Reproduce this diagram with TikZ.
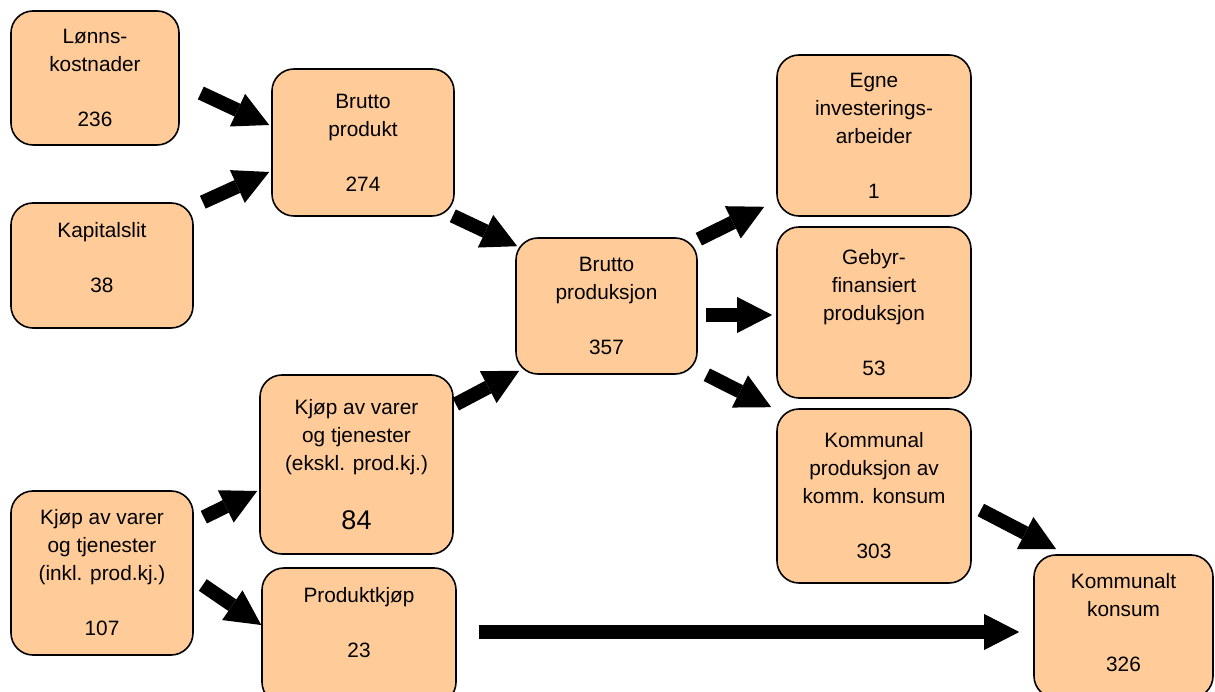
\documentclass[tikz,border=0pt]{standalone}
\usepackage{fontspec}
\setmainfont{Liberation Sans}
\usetikzlibrary{arrows.meta}
\definecolor{peach}{HTML}{FFCC99}

\begin{document}
\begin{tikzpicture}[x=1pt, y=1pt,
    box/.style={draw, line width=1.6pt, fill=peach, rounded corners=22pt, align=center, inner sep=0pt,
                font=\fontsize{20.8}{28}\selectfont},
    flow/.style={line width=\shaft, -{Triangle[length=35pt, width=36pt, line width=0pt]}}]
      \def\shaft{14pt}
      \def\gap{27pt}
      \useasboundingbox (0,0) rectangle (1215,691);

      %boxes
      \node[box, minimum width=168pt, minimum height=134pt, name=lonn    ] at (95    , 613  ) {Lønns-\\kostnader\\[\gap]236};
      \node[box, minimum width=182pt, minimum height=125pt, name=kap     ] at (102   , 425.5) {Kapitalslit\\[\gap]38\\[-11pt]\mbox{}};
      \node[box, minimum width=182pt, minimum height=147pt, name=bprod   ] at (363   , 548.5) {Brutto\\produkt\\[\gap]274};
      \node[box, minimum width=181pt, minimum height=136pt, name=bprodsj ] at (606.5 , 385  ) {Brutto\\produksjon\\[\gap]357};
      \node[box, minimum width=194pt, minimum height=161pt, name=egne    ] at (874   , 555.5) {Egne\\investerings-\\arbeider\\[\gap]1};
      \node[box, minimum width=194pt, minimum height=171pt, name=gebyr   ] at (874   , 378.5) {Gebyr-\\finansiert\\produksjon\\[\gap]53};
      \node[box, minimum width=194pt, minimum height=174pt, name=kprod   ] at (874   , 195  ) {Kommunal\\produksjon av\\komm. konsum\\[\gap]303};
      \node[box, minimum width=179pt, minimum height=143pt, name=kkons   ] at (1123.5, 64.5 ) {Kommunalt\\konsum\\[\gap]326\\[-20pt]\mbox{}};
      \node[box, minimum width=193pt, minimum height=179pt, name=kjopeks ] at (356.5 , 226.5) {Kjøp av varer\\og tjenester\\(ekskl. prod.kj.)\\[31pt]{\fontsize{27}{28}\selectfont 84}};
      \node[box, minimum width=182pt, minimum height=164pt, name=kjopinkl] at (102   , 118  ) {Kjøp av varer\\og tjenester\\(inkl. prod.kj.)\\[\gap]107};
      \node[box, minimum width=194pt, minimum height=136pt, name=pkjop   ] at (359   , 55   ) {Produktkjøp\\[\gap]23\\\mbox{}};

      %flows
      \draw[flow] ([shift={(21,-15)}]lonn.east)           -- ([shift={(-2,17.5)}]bprod.west);
      \draw[flow] ([shift={(9,0)}]kap.north east)         -- ([shift={(-2,-29.5)}]bprod.west);
      \draw[flow] ([shift={(-2,1)}]bprod.south east)      -- ([shift={(2,-9)}]bprodsj.north west);
      \draw[flow] ([shift={(2,-30)}]kjopeks.north east)   -- ([shift={(4,4)}]bprodsj.south west);
      \draw[flow] ([shift={(1,-2)}]bprodsj.north east)    -- ([shift={(-12,10)}]egne.south west);
      \draw[flow] ([shift={(8,-9)}]bprodsj.east)          -- ([shift={(-4,-2.5)}]gebyr.west);
      \draw[flow] ([shift={(9,0)}]bprodsj.south east)     -- ([shift={(-5,1)}]kprod.north west);
      \draw[flow] ([shift={(9,-14)}]kprod.east)           -- ([shift={(23,5)}]kkons.north west);
      \draw[flow] ([shift={(10,-27)}]kjopinkl.north east) -- ([shift={(-2,-26.5)}]kjopeks.west);
      \draw[flow] ([shift={(9,-12)}]kjopinkl.east)        -- ([shift={(0,11)}]pkjop.west);
      \draw[flow] ([shift={(22,4)}]pkjop.east)            -- ([shift={(-14,-5.5)}]kkons.west);
\end{tikzpicture}
\end{document}
